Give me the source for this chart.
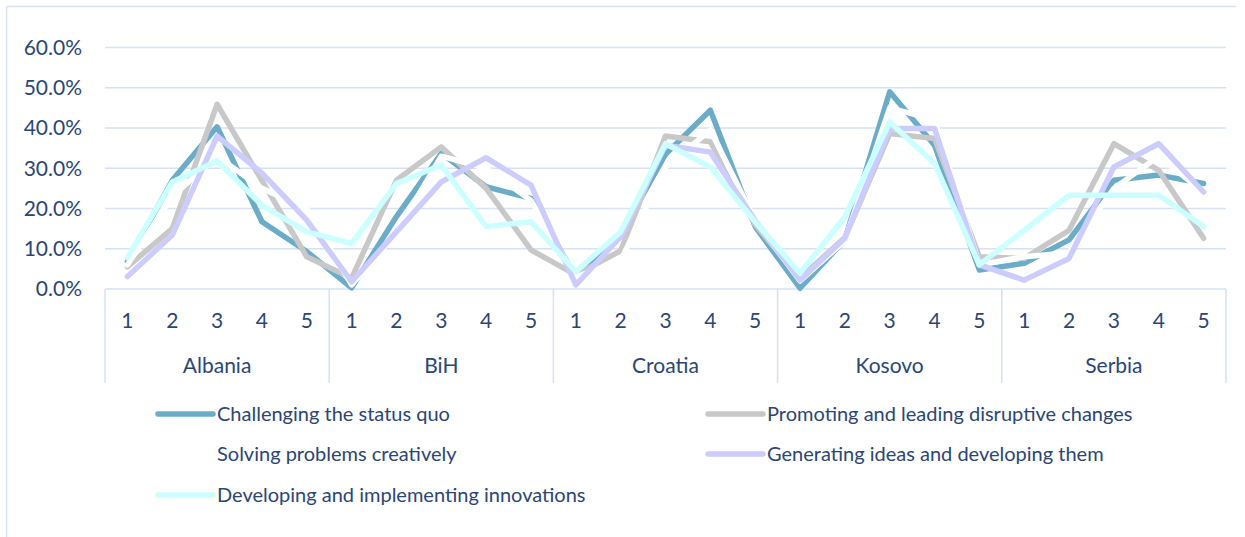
<!DOCTYPE html>
<html lang="en">
  <head>
    <meta charset="UTF-8" />
    <title>Innovation competences by country</title>
    <style>
      body {
        margin: 0;
        background: #fff;
      }
      text {
        font-family: Lato, "Open Sans", sans-serif;
        fill: #2b4675;
      }
    </style>
  </head>
  <body>
    <div id="chart"></div>

    <script src="https://cdn.jsdelivr.net/npm/d3@7"></script>

    <script>
      //////////////////////////////////////////////////////////////
      ///////////////////////// Data ///////////////////////////////
      //////////////////////////////////////////////////////////////

      var countries = ["Albania", "BiH", "Croatia", "Kosovo", "Serbia"];
      var levels = ["1", "2", "3", "4", "5"];
      var yTicks = [0, 0.1, 0.2, 0.3, 0.4, 0.5, 0.6];

      var seriesNames = [
        "Challenging the status quo",
        "Promoting and leading disruptive changes",
        "Solving problems creatively",
        "Generating ideas and developing them",
        "Developing and implementing innovations"
      ];
      var seriesColors = ["#6badc9", "#c8c8c8", "#ffffff", "#ccccff", "#ccffff"];

      // values per series, 5 countries x 5 levels (in %)
      var challenging = [6.8, 27, 40.3, 16.7, 9.3,  0.3, 18, 33.7, 25.4, 22.5,  3, 13.5, 33.5, 44.4, 15.5,  0.2, 12.2, 49, 35.7, 4.7,  6.4, 12.2, 27, 28.3, 26.2];
      var promoting = [5.5, 15, 45.9, 26.9, 8,  2.7, 27, 35.3, 25, 9.7,  3.5, 9.5, 38, 36.6, 16,  2.7, 12.8, 38.6, 37.4, 8,  7.6, 14.6, 36.1, 29.5, 12.6];
      var solving = [6, 23, 33, 25, 20,  1, 14, 33, 30, 22,  3, 7, 30.3, 39.5, 17,  2, 12, 45, 42, 6,  8, 9, 25, 33, 24];
      var generating = [3.1, 13.4, 38, 28.8, 17.1,  1.8, 14.2, 26.6, 32.6, 25.8,  1, 13, 35.7, 34, 17,  2.2, 12.6, 39.9, 39.9, 6,  2.2, 7.6, 30.3, 36.1, 24.1];
      var developing = [7.8, 26.6, 31.8, 20.8, 14.2,  11.3, 26.2, 30.8, 15.5, 16.7,  4.3, 14.2, 36.1, 30.3, 16.7,  3.9, 17.9, 41.5, 31.2, 6,  14.6, 23.3, 23.3, 23.3, 15.5];

      var allSeries = [challenging, promoting, solving, generating, developing];

      //////////////////////////////////////////////////////////////
      ///////////////////////// Setup //////////////////////////////
      //////////////////////////////////////////////////////////////

      var width = 1245,
        height = 537;
      var plot = { left: 105, right: 1226, top: 47.5, bottom: 289 };

      var svg = d3
        .select("#chart")
        .append("svg")
        .attr("width", width)
        .attr("height", height);

      var gridColor = "#d6e2f3";

      //outer frame (top and left only)
      svg.append("line")
        .attr("x1", 6.5).attr("x2", 1236).attr("y1", 6.5).attr("y2", 6.5)
        .style("stroke", gridColor).style("stroke-width", 1.5);
      svg.append("line")
        .attr("x1", 6.5).attr("x2", 6.5).attr("y1", 6.5).attr("y2", height)
        .style("stroke", gridColor).style("stroke-width", 1.5);

      //scales
      var xCountry = d3
        .scaleBand()
        .domain(countries)
        .range([plot.left, plot.right]);
      var xLevel = d3
        .scalePoint()
        .domain(levels)
        .range([0, xCountry.bandwidth()])
        .padding(0.5);
      var y = d3
        .scaleLinear()
        .domain([0, 0.6])
        .range([plot.bottom, plot.top]);

      function xPos(i) {
        var c = countries[Math.floor(i / levels.length)],
          l = levels[i % levels.length];
        return xCountry(c) + xLevel(l);
      }

      //gridlines
      svg.append("g")
        .selectAll("line")
        .data(yTicks.slice(1))
        .enter()
        .append("line")
        .attr("x1", plot.left)
        .attr("x2", plot.right)
        .attr("y1", function(d) { return y(d); })
        .attr("y2", function(d) { return y(d); })
        .style("stroke", gridColor)
        .style("stroke-width", 1.5);

      //y axis labels
      svg.append("g")
        .selectAll("text")
        .data(yTicks)
        .enter()
        .append("text")
        .attr("x", 82)
        .attr("y", function(d) { return y(d); })
        .attr("dy", "0.35em")
        .attr("text-anchor", "end")
        .style("font-size", "21px")
        .text(d3.format(".1%"));

      //category axis box
      var axisG = svg.append("g");
      axisG.append("line")
        .attr("x1", plot.left).attr("x2", plot.right)
        .attr("y1", plot.bottom).attr("y2", plot.bottom)
        .style("stroke", gridColor).style("stroke-width", 1.5);
      axisG.selectAll(".sep")
        .data(countries.concat(["end"]))
        .enter()
        .append("line")
        .attr("class", "sep")
        .attr("x1", function(d, i) { return plot.left + i * xCountry.bandwidth(); })
        .attr("x2", function(d, i) { return plot.left + i * xCountry.bandwidth(); })
        .attr("y1", plot.bottom)
        .attr("y2", 383)
        .style("stroke", gridColor)
        .style("stroke-width", 1.5);

      //level labels
      var levelData = d3.range(countries.length * levels.length);
      axisG.selectAll(".lvl")
        .data(levelData)
        .enter()
        .append("text")
        .attr("class", "lvl")
        .attr("x", function(d) { return xPos(d); })
        .attr("y", 321)
        .attr("dy", "0.35em")
        .attr("text-anchor", "middle")
        .style("font-size", "21px")
        .text(function(d) { return levels[d % levels.length]; });

      //country labels
      axisG.selectAll(".ctry")
        .data(countries)
        .enter()
        .append("text")
        .attr("class", "ctry")
        .attr("x", function(d) { return xCountry(d) + xCountry.bandwidth() / 2; })
        .attr("y", 366)
        .attr("dy", "0.35em")
        .attr("text-anchor", "middle")
        .style("font-size", "21px")
        .text(function(d) { return d; });

      //////////////////////////////////////////////////////////////
      ///////////////////////// Lines //////////////////////////////
      //////////////////////////////////////////////////////////////

      var line = d3
        .line()
        .x(function(d, i) { return xPos(i); })
        .y(function(d) { return y(d / 100); });

      svg.append("g")
        .selectAll("path")
        .data(allSeries)
        .enter()
        .append("path")
        .attr("d", line)
        .style("fill", "none")
        .style("stroke", function(d, i) { return seriesColors[i]; })
        .style("stroke-width", 5.5)
        .style("stroke-linejoin", "round")
        .style("stroke-linecap", "round");

      //////////////////////////////////////////////////////////////
      ///////////////////////// Legend /////////////////////////////
      //////////////////////////////////////////////////////////////

      var legendPos = [
        [158, 414], [708, 414],
        [158, 454], [708, 454],
        [158, 495]
      ];

      var legend = svg.append("g")
        .selectAll("g")
        .data(seriesNames)
        .enter()
        .append("g")
        .attr("transform", function(d, i) {
          return "translate(" + legendPos[i][0] + "," + legendPos[i][1] + ")";
        });

      legend.append("line")
        .attr("x1", 0)
        .attr("x2", 55)
        .style("stroke", function(d, i) { return seriesColors[i]; })
        .style("stroke-width", 5.5)
        .style("stroke-linecap", "round");

      legend.append("text")
        .attr("x", 59)
        .attr("dy", "0.35em")
        .style("font-size", "20px")
        .text(function(d) { return d; });
    </script>
  </body>
</html>
